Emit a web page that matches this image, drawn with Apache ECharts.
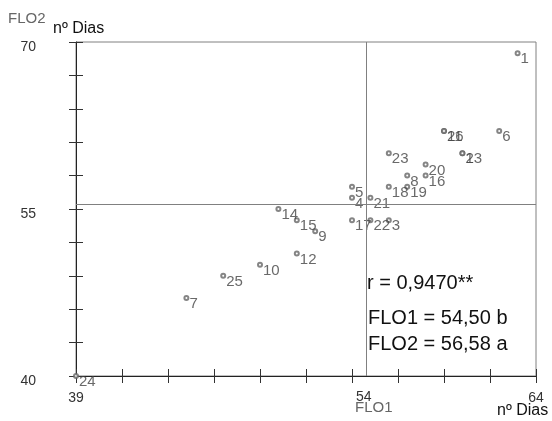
<!DOCTYPE html>
<html>
<head>
<meta charset="utf-8">
<script src="https://cdn.jsdelivr.net/npm/echarts@6/dist/echarts.min.js"></script>
<style>html,body{margin:0;padding:0;background:#fff}#c{width:552px;height:421px}</style>
</head>
<body>
<div id="c"></div>
<script>
// Genotype / point identifiers
const pointIds = ['1','2','3','4','5','6','7','8','9','10','11','12','13','14','15','16','17','18','19','20','21','22','23','24','25','26'];
// FLO1 (nº dias)
const flo1 = [63,60,56,54,54,62,45,57,52,49,59,51,60,50,51,58,54,56,57,58,55,55,56,39,47,59];
// FLO2 (nº dias)
const flo2 = [69,60,54,56,57,62,47,58,53,50,62,51,60,55,54,58,54,57,57,59,56,54,60,40,49,62];
// Reference lines as drawn in the figure
const refX = 54.8;
const refY = 55.45;
const refXLabel = '54';
// Axis ticks and labels
const xTicks = [39,41.5,44,46.5,49,51.5,54,56.5,59,61.5,64];
const xLabels = [39,64];
const yTicks = [40,43,46,49,52,55,58,61,64,67,70];
const yLabels = [40,55,70];
const statLines = ['r = 0,9470**', 'FLO1 = 54,50 b', 'FLO2 = 56,58 a'];

const data = pointIds.map((id, i) => [flo1[i], flo2[i], id]);
const font = 'Liberation Sans, Arial, sans-serif';

const chart = echarts.init(document.getElementById('c'), null, {renderer: 'canvas'});
const xBase = {type: 'value', min: 39, max: 64, position: 'bottom', splitLine: {show: false}};
const yBase = {type: 'value', min: 40, max: 70, position: 'left', splitLine: {show: false}};
chart.setOption({
  animation: false,
  backgroundColor: '#fff',
  grid: {left: 76, right: 16, top: 42, bottom: 45, show: true, borderColor: '#808080', borderWidth: 1},
  xAxis: [
    Object.assign({}, xBase, {
      axisLine: {show: true, lineStyle: {color: '#222', width: 1}},
      axisTick: {show: true, inside: false, length: 7, customValues: xTicks, lineStyle: {color: '#333'}},
      axisLabel: {show: true, customValues: xLabels, margin: 15, color: '#333', fontSize: 14, fontFamily: font}
    }),
    Object.assign({}, xBase, {
      axisLine: {show: false},
      axisTick: {show: true, inside: true, length: 7, customValues: xTicks, lineStyle: {color: '#333'}},
      axisLabel: {show: false}
    })
  ],
  yAxis: [
    Object.assign({}, yBase, {
      axisLine: {show: true, lineStyle: {color: '#222', width: 1}},
      axisTick: {show: true, inside: false, length: 7, customValues: yTicks, lineStyle: {color: '#333'}},
      axisLabel: {
        show: true, customValues: yLabels, margin: 40, color: '#333', fontSize: 14, fontFamily: font,
        formatter: v => '{p|' + v + '}',
        rich: {p: {padding: [10, 0, 0, 0], color: '#333', fontSize: 14, fontFamily: font}}
      }
    }),
    Object.assign({}, yBase, {
      axisLine: {show: false},
      axisTick: {show: true, inside: true, length: 7, customValues: yTicks, lineStyle: {color: '#333'}},
      axisLabel: {show: false}
    })
  ],
  series: [{
    type: 'scatter',
    xAxisIndex: 0, yAxisIndex: 0,
    data: data,
    symbol: 'emptyCircle',
    symbolSize: 4,
    itemStyle: {color: '#666', borderWidth: 1},
    label: {
      show: true, position: [6, 9], align: 'left', verticalAlign: 'middle',
      formatter: p => p.value[2],
      color: '#444', fontSize: 15, fontFamily: font
    },
    labelLayout: {hideOverlap: false},
    markLine: {
      silent: true, symbol: 'none', animation: false,
      lineStyle: {color: '#808080', width: 1, type: 'solid'},
      data: [
        {xAxis: refX, label: {show: true, position: 'start', distance: 14, formatter: refXLabel, color: '#333', fontSize: 14, fontFamily: font, offset: [-3, 0]}},
        {yAxis: refY, label: {show: false}}
      ]
    }
  }],
  graphic: [
    {type: 'text', left: 8, top: 11, style: {text: 'FLO2', fill: '#666', font: '15px ' + font}},
    {type: 'text', left: 53, top: 21, style: {text: 'nº Dias', fill: '#111', font: '16px ' + font}},
    {type: 'text', left: 355, top: 400, style: {text: 'FLO1', fill: '#666', font: '15px ' + font}},
    {type: 'text', left: 497, top: 403, style: {text: 'nº Dias', fill: '#111', font: '16px ' + font}},
    {type: 'text', left: 367, top: 273, style: {text: statLines[0], fill: '#111', font: '20px ' + font}},
    {type: 'text', left: 368, top: 308, style: {text: statLines[1], fill: '#111', font: '20px ' + font}},
    {type: 'text', left: 368, top: 334, style: {text: statLines[2], fill: '#111', font: '20px ' + font}}
  ]
});
</script>
</body>
</html>
